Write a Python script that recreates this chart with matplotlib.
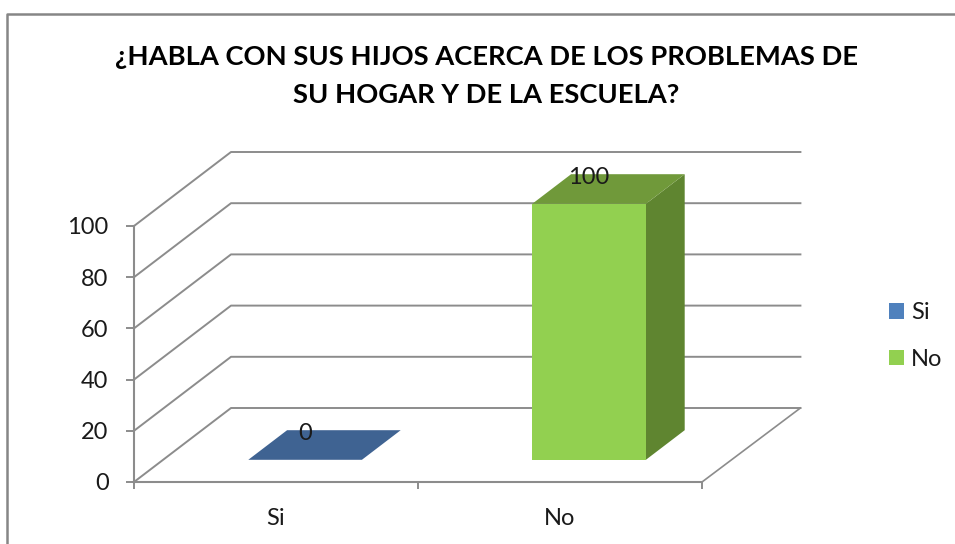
import matplotlib.pyplot as plt
from matplotlib.patches import Patch
from matplotlib.lines import Line2D

# Data
categories = ["Si", "No"]
values = [0, 100]
yticks = [0, 20, 40, 60, 80, 100]
title = "¿HABLA CON SUS HIJOS ACERCA DE LOS PROBLEMAS DE\nSU HOGAR Y DE LA ESCUELA?"

front_colors = ["#4F81BD", "#92D050"]
side_colors = ["#3A6091", "#5F8530"]
top_colors = ["#3F6392", "#70993A"]
grid_color = "#8C8C8C"

W, H = 955, 544
# one category is 284 px wide, 100 units are 256 px tall
DEPTH_X = 97 / 284
DEPTH_Y = 74 / 2.56
BAR_W = 0.4
BAR_D0, BAR_D1 = 0.3, 0.7


def project(x, y, d):
    # oblique projection of the fake 3d box, d=0 front, d=1 back
    return x + d * DEPTH_X, y + d * DEPTH_Y


plt.rcParams["font.family"] = ["Lato", "DejaVu Sans"]
fig = plt.figure(figsize=(W / 100, H / 100), dpi=100)
ax = fig.add_axes([134 / W, 1 - 482 / H, 568 / W, 256 / H])
ax.set_xlim(0, 2)
ax.set_ylim(0, 100)
ax.patch.set_alpha(0)

# outer chart frame, runs off the image on the right and bottom
fig.add_artist(Line2D([7 / W, 7 / W, 1], [0, 1 - 14 / H, 1 - 14 / H], color="#868686", lw=1.8))

# walls
for v in yticks:
    x0, y0 = project(0, v, 0)
    x1, y1 = project(0, v, 1)
    x2, y2 = project(2.005, v, 1)
    ax.plot([x0, x1, x2], [y0, y1, y2], color=grid_color, lw=1.4, clip_on=False, zorder=1)
x0, y0 = project(2, 0, 0)
x1, y1 = project(2.005, 0, 1)
ax.plot([x0, x1], [y0, y1], color=grid_color, lw=1.2, clip_on=False, zorder=1)

# bars
for i, v in enumerate(values):
    left = i + 0.5 - BAR_W / 2
    right = i + 0.5 + BAR_W / 2
    side = [project(right, 0, BAR_D0), project(right, 0, BAR_D1), project(right, v, BAR_D1), project(right, v, BAR_D0)]
    top = [project(left, v, BAR_D0), project(left, v, BAR_D1), project(right, v, BAR_D1), project(right, v, BAR_D0)]
    front = [project(left, 0, BAR_D0), project(right, 0, BAR_D0), project(right, v, BAR_D0), project(left, v, BAR_D0)]
    ax.fill(*zip(*side), color=side_colors[i], lw=0, clip_on=False, zorder=2)
    ax.fill(*zip(*top), color=top_colors[i], lw=0, clip_on=False, zorder=2)
    ax.fill(*zip(*front), color=front_colors[i], lw=0, clip_on=False, zorder=3)
    lx, ly = project(i + 0.5, v, BAR_D0)
    ax.annotate(str(v), (lx, ly), xytext=(0, 19), textcoords="offset points", ha="center", va="center",
                fontsize=17, color="#1A1A1A", annotation_clip=False, zorder=4)

for s in ["top", "right"]:
    ax.spines[s].set_visible(False)
for s in ["left", "bottom"]:
    ax.spines[s].set_color(grid_color)
    ax.spines[s].set_linewidth(1.5)

ax.set_yticks(yticks)
ax.tick_params(axis="y", length=5.8, width=1.4, color=grid_color, labelsize=17, labelcolor="#1A1A1A", pad=12.5)
ax.set_xticks([0, 1, 2])
ax.set_xticklabels([])
ax.set_xticks([0.5, 1.5], minor=True)
ax.set_xticklabels(categories, minor=True)
ax.tick_params(axis="x", length=5, width=1.4, color=grid_color)
ax.tick_params(axis="x", which="minor", length=0, labelsize=17, labelcolor="#1A1A1A", pad=18.5)

fig.text(486.5 / W, 1 - 76 / H, title, ha="center", va="center", fontsize=19.7, fontweight="bold",
         color="black", linespacing=1.7)

handles = [Patch(color=front_colors[0], lw=0), Patch(color=front_colors[1], lw=0)]
fig.legend(handles, categories, loc="center left", bbox_to_anchor=(889 / W, 1 - 336 / H), frameon=False,
           fontsize=17, handlelength=0.64, handleheight=0.64, handletextpad=0.3, labelspacing=1.1,
           borderpad=0, borderaxespad=0, labelcolor="#1A1A1A")

fig.savefig("out.png", dpi=100)
